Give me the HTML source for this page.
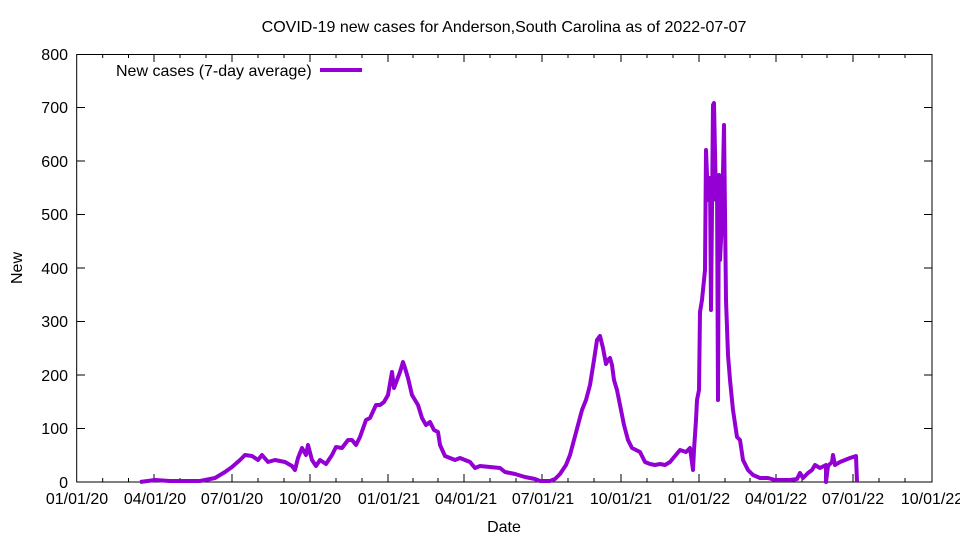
<!DOCTYPE html>
<html><head><meta charset="utf-8"><style>
body{margin:0;background:#fff;}
svg{display:block;font-family:"Liberation Sans",sans-serif;}
</style></head><body>
<svg width="960" height="540" viewBox="0 0 960 540" xmlns="http://www.w3.org/2000/svg">
<rect width="960" height="540" fill="#fff"/>
<text x="504" y="32" font-size="16" text-anchor="middle">COVID-19 new cases for Anderson,South Carolina as of 2022-07-07</text>
<g font-size="16" text-anchor="end">
<text x="68" y="488">0</text><text x="68" y="434">100</text><text x="68" y="381">200</text><text x="68" y="327">300</text>
<text x="68" y="274">400</text><text x="68" y="220">500</text><text x="68" y="167">600</text><text x="68" y="113">700</text><text x="68" y="60">800</text>
</g>
<g stroke="#000" stroke-width="1">
<path d="M77 428.5h8M932 428.5h-8M77 375h8M932 375h-8M77 321.5h8M932 321.5h-8M77 268h8M932 268h-8M77 214.5h8M932 214.5h-8M77 161h8M932 161h-8M77 107.5h8M932 107.5h-8"/>
<path d="M154 482v-8M154 54v8M232 482v-8M232 54v8M310 482v-8M310 54v8M388 482v-8M388 54v8M464 482v-8M464 54v8M542 482v-8M542 54v8M621 482v-8M621 54v8M699 482v-8M699 54v8M776 482v-8M776 54v8M853 482v-8M853 54v8"/>
<path d="M102.7 482v-4M128.5 482v-4M180 482v-4M206 482v-4M258 482v-4M284 482v-4M336 482v-4M362 482v-4M413 482v-4M438 482v-4M490 482v-4M516 482v-4M568 482v-4M594 482v-4M647 482v-4M673 482v-4M725 482v-4M750 482v-4M802 482v-4M827 482v-4M879 482v-4M905 482v-4
M102.7 54v4M128.5 54v4M180 54v4M206 54v4M258 54v4M284 54v4M336 54v4M362 54v4M413 54v4M438 54v4M490 54v4M516 54v4M568 54v4M594 54v4M647 54v4M673 54v4M725 54v4M750 54v4M802 54v4M827 54v4M879 54v4M905 54v4"/>
<rect x="76.7" y="54.5" width="855.3" height="427.5" fill="none"/>
</g>
<g font-size="16" text-anchor="middle">
<text x="77" y="504">01/01/20</text><text x="155" y="504">04/01/20</text><text x="232" y="504">07/01/20</text><text x="310" y="504">10/01/20</text>
<text x="389" y="504">01/01/21</text><text x="466" y="504">04/01/21</text><text x="543" y="504">07/01/21</text><text x="621" y="504">10/01/21</text>
<text x="699" y="504">01/01/22</text><text x="776" y="504">04/01/22</text><text x="853" y="504">07/01/22</text><text x="932" y="504">10/01/22</text>
</g>
<text x="504" y="532" font-size="16" text-anchor="middle">Date</text>
<text transform="translate(22,268) rotate(-90)" font-size="16" text-anchor="middle">New</text>
<text x="116" y="76" font-size="16">New cases (7-day average)</text>
<path d="M320 70H362" stroke="#9400d3" stroke-width="4"/>
<polyline fill="none" stroke="#9400d3" stroke-width="4" stroke-linejoin="round" points="140,482 155,480 170,481 185,481 200,481 215,478 225,472 232,467 240,460 245,455 252,456 258,460 262,455 268,462 275,460 285,462 292,466 295,470 298,458 302,448 306,455 308,445 312,460 316,466 320,460 326,464 332,455 336,447 342,448 348,440 352,440 356,445 360,437 366,420 370,418 376,405 380,405 384,402 388,395 392,372 394,388 397,380 400,372 403,362 405,368 408,378 412,395 418,405 422,418 426,425 430,422 434,430 438,432 440,445 445,456 450,458 455,460 460,458 465,460 470,462 475,468 480,466 490,467 500,468 505,472 515,474 525,477 535,479 540,481 550,481 555,479 560,474 566,465 570,455 574,440 578,425 582,410 586,400 590,385 594,360 597,340 600,336 603,348 606,364 608,360 610,358 612,365 614,380 617,390 620,405 624,425 628,440 632,448 636,450 640,452 645,462 650,464 655,465 660,464 665,465 670,462 675,456 680,450 686,452 690,448 693,470 694,450 696,420 697,400 699,390 700,312 702,300 703,290 705,270 706,150 708,200 710,178 711,310 713,105 714,103 716,200 717,180 718,400 719,175 720,260 722,220 724,125 726,300 728,355 730,380 733,410 737,437 740,440 743,460 748,470 753,475 760,478 768,478 775,480 790,480 797,479 800,473 803,478 808,473 812,470 815,465 820,468 826,465 826,482 828,466 832,462 833,455 835,465 840,462 845,460 850,458 856,456 857,482"/>
</svg>
</body></html>
